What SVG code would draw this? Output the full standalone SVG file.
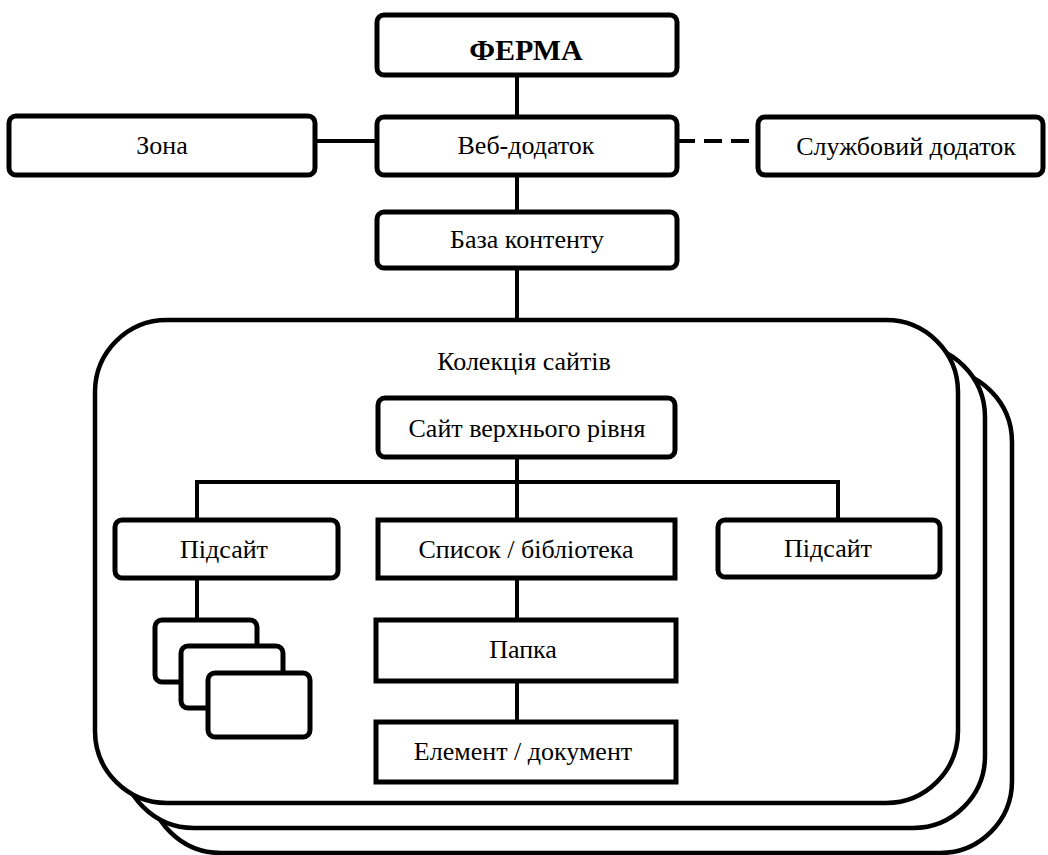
<svg xmlns="http://www.w3.org/2000/svg" width="1048" height="855" viewBox="0 0 1048 855">
<style>
.box{fill:#fff;stroke:#000;stroke-width:5}
.coll{fill:#fff;stroke:#000;stroke-width:4.5}
.ln{fill:none;stroke:#000;stroke-width:4}
.dash{fill:none;stroke:#000;stroke-width:4;stroke-dasharray:18 9}
text{font-family:"Liberation Serif","Times New Roman",serif;font-size:26px;fill:#000;text-anchor:middle}
.b{font-weight:bold;font-size:30px}
</style>
<rect width="1048" height="855" fill="#fff"/>
<g id="collection">
<rect class="coll" x="149" y="370" width="863" height="483" rx="72"/>
<rect class="coll" x="122" y="345" width="863" height="483" rx="72"/>
<rect class="coll" x="95" y="320" width="863" height="483" rx="72"/>
<text x="524" y="370">Колекція сайтів</text>
</g>
<g id="connectors">
<line class="ln" x1="517" y1="75" x2="517" y2="117"/>
<line class="ln" x1="315" y1="141" x2="377" y2="141"/>
<line class="dash" x1="677" y1="141" x2="758" y2="141"/>
<line class="ln" x1="517" y1="175" x2="517" y2="212"/>
<line class="ln" x1="517" y1="268" x2="517" y2="320"/>
<line class="ln" x1="517" y1="457" x2="517" y2="520"/>
<polyline class="ln" points="197,520 197,482 838,482 838,520"/>
<line class="ln" x1="517" y1="578" x2="517" y2="620"/>
<line class="ln" x1="517" y1="681" x2="517" y2="722"/>
<line class="ln" x1="197" y1="578" x2="197" y2="620"/>
</g>
<g id="ferma"><rect class="box" x="377" y="15" width="300" height="60" rx="7"/><text class="b" x="526" y="60">ФЕРМА</text></g>
<g id="zona"><rect class="box" x="9" y="116" width="306" height="59" rx="7"/><text x="162" y="154">Зона</text></g>
<g id="web"><rect class="box" x="377" y="117" width="300" height="58" rx="7"/><text x="526" y="154">Веб-додаток</text></g>
<g id="service"><rect class="box" x="758" y="117" width="285" height="58" rx="7"/><text x="906" y="155">Службовий додаток</text></g>
<g id="content-db"><rect class="box" x="377" y="212" width="300" height="56" rx="7"/><text x="527" y="248">База контенту</text></g>
<g id="top-site"><rect class="box" x="378" y="398" width="297" height="59" rx="7"/><text x="527" y="437">Сайт верхнього рівня</text></g>
<g id="subsite-left"><rect class="box" x="115" y="520" width="223" height="58" rx="7"/><text x="224" y="558">Підсайт</text></g>
<g id="list"><rect class="box" x="378" y="520" width="297" height="58"/><text x="526" y="558">Список / бібліотека</text></g>
<g id="subsite-right"><rect class="box" x="718" y="520" width="222" height="57" rx="7"/><text x="828" y="557">Підсайт</text></g>
<g id="folder"><rect class="box" x="376" y="620" width="300" height="61"/><text x="523" y="658">Папка</text></g>
<g id="item"><rect class="box" x="376" y="722" width="300" height="60"/><text x="523" y="760">Елемент / документ</text></g>
<g id="subsite-stack">
<rect class="box" x="155" y="620" width="102" height="62" rx="7"/>
<rect class="box" x="181" y="646" width="102" height="62" rx="7"/>
<rect class="box" x="208" y="673" width="102" height="64" rx="7"/>
</g>
</svg>
